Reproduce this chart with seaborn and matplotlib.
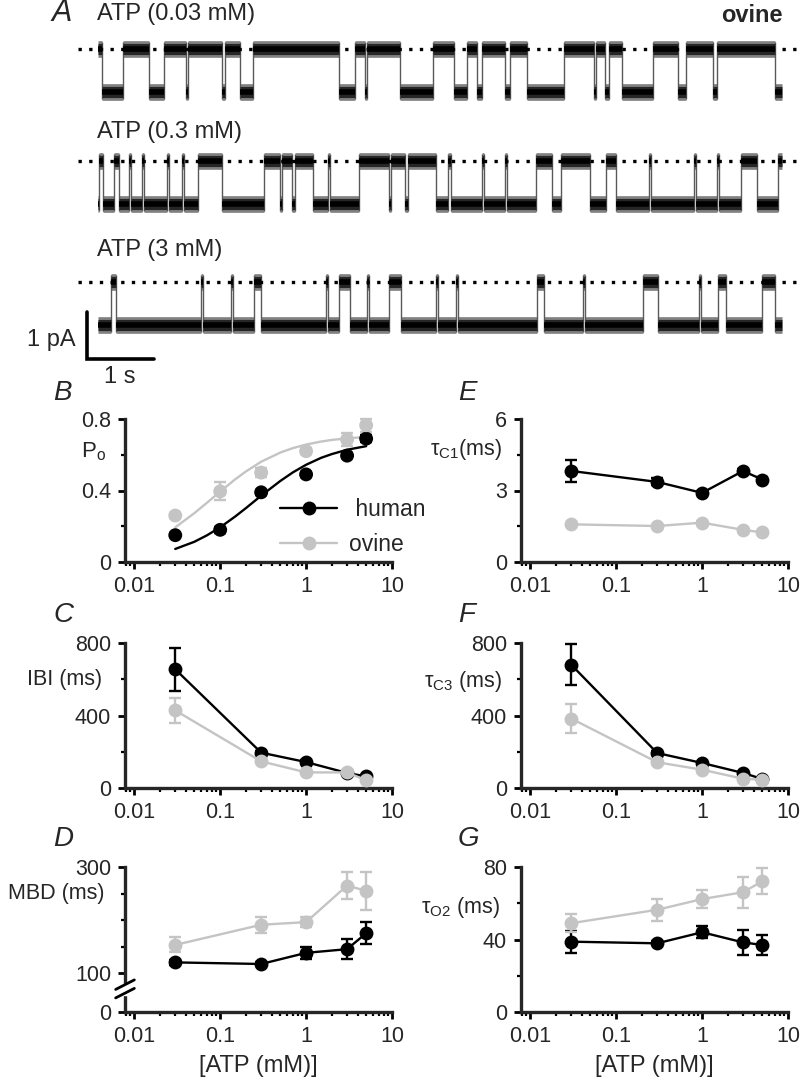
import numpy as np
import pandas as pd
import matplotlib.pyplot as plt
import matplotlib.transforms as mtransforms
from matplotlib.lines import Line2D
from matplotlib.ticker import LogLocator, NullFormatter, FixedLocator
import seaborn as sns

# ---- panel A: single-channel records, dwell intervals (s) ----
trace_end = 10.21
closed_003 = [(0.06, 0.38), (0.76, 0.99), (1.31, 1.35), (1.85, 1.89), (2.12, 2.31),
              (3.59, 3.83), (3.99, 4.02), (4.50, 5.00), (5.31, 5.50), (5.65, 5.73),
              (6.07, 6.15), (6.41, 6.95), (7.40, 7.44), (7.56, 7.63), (7.82, 8.28),
              (8.66, 8.78), (9.18, 9.24), (10.10, 10.21)]
open_03 = [(0.02, 0.08), (0.24, 0.31), (0.46, 0.49), (0.66, 0.69), (1.03, 1.06),
           (1.26, 1.29), (1.49, 1.85), (2.48, 2.71), (2.75, 2.90), (2.94, 3.21),
           (3.44, 3.47), (3.89, 4.34), (4.38, 4.58), (4.62, 5.04), (5.23, 5.27),
           (5.73, 5.76), (6.07, 6.11), (6.53, 6.78), (6.91, 7.34), (7.58, 7.73),
           (8.23, 8.26), (8.89, 8.93), (9.24, 9.27), (9.60, 9.83), (10.15, 10.21)]
open_3 = [(0.19, 0.27), (1.53, 1.56), (1.98, 2.02), (2.33, 2.44), (3.40, 3.44),
          (3.59, 3.76), (4.01, 4.05), (4.35, 4.52), (5.04, 5.07), (5.34, 5.37),
          (6.55, 6.66), (7.24, 7.27), (8.13, 8.36), (8.97, 9.00), (9.26, 9.37),
          (9.91, 10.11)]
trace_labels = ['ATP (0.03 mM)', 'ATP (0.3 mM)', 'ATP (3 mM)']
amp = 0.92  # pA

# ---- panels B-G ----
conc_po = [0.03, 0.1, 0.3, 1, 3, 5]
conc = [0.03, 0.3, 1, 3, 5]

po_human = [0.15, 0.18, 0.39, 0.49, 0.595, 0.69]
po_human_err = [0.01, 0.015, 0.015, 0.015, 0.015, 0.02]
po_ovine = [0.26, 0.395, 0.50, 0.62, 0.685, 0.765]
po_ovine_err = [0.015, 0.05, 0.025, 0.015, 0.035, 0.035]

fit_conc = [0.03, 0.05, 0.07, 0.1, 0.15, 0.2, 0.3, 0.5, 0.7, 1, 1.5, 2, 3, 5]
fit_human = [0.073, 0.113, 0.149, 0.194, 0.255, 0.302, 0.371, 0.453, 0.501,
             0.544, 0.583, 0.604, 0.628, 0.648]
fit_ovine = [0.194, 0.273, 0.331, 0.394, 0.463, 0.507, 0.561, 0.612, 0.637,
             0.657, 0.674, 0.683, 0.692, 0.699]

ibi_human = [655, 195, 143, 83, 64]
ibi_human_err = [118, 10, 10, 8, 6]
ibi_ovine = [428, 147, 86, 86, 42]
ibi_ovine_err = [69, 10, 8, 8, 6]

mbd_human = [120, 117, 138, 145, 175]
mbd_human_err = [5, 4, 12, 19, 21]
mbd_ovine = [153, 191, 196, 265, 255]
mbd_ovine_err = [14, 15, 10, 26, 36]

tc1_human = [3.82, 3.36, 2.90, 3.82, 3.46]
tc1_human_err = [0.45, 0.15, 0.1, 0.1, 0.1]
tc1_ovine = [1.58, 1.51, 1.65, 1.35, 1.24]
tc1_ovine_err = [0.05, 0.05, 0.08, 0.05, 0.05]

tc3_human = [680, 193, 138, 83, 50]
tc3_human_err = [113, 10, 8, 6, 5]
tc3_ovine = [383, 142, 101, 51, 46]
tc3_ovine_err = [78, 8, 6, 5, 4]

to2_human = [38.8, 37.9, 44.0, 38.4, 37.0]
to2_human_err = [6, 1, 3.2, 7, 5.7]
to2_ovine = [49.0, 56.4, 62.3, 66.1, 72.1]
to2_ovine_err = [4.9, 6, 4.8, 8.5, 7.1]

BLACK = 'black'
GREY = '#c4c4c4'
palette = {'human': BLACK, 'ovine': GREY}

sns.set_theme(style='ticks')
plt.rcParams['font.family'] = ['Liberation Sans', 'DejaVu Sans']
plt.rcParams['mathtext.fontset'] = 'custom'
plt.rcParams['mathtext.rm'] = 'Liberation Sans'
plt.rcParams['mathtext.default'] = 'regular'

W, H = 800, 1086
fig = plt.figure(figsize=(W / 100, H / 100), dpi=100)


def box(l, t, r, b):
    return [l / W, 1 - b / H, (r - l) / W, (b - t) / H]


def ftext(x, y, s, **kw):
    fig.text(x / W, 1 - y / H, s, **kw)


# ---------------- panel A ----------------
axA = fig.add_axes([0, 1 - 385 / H, 1, 385 / H])
axA.axis('off')
axA.set_xlim(-98 / 67, (W - 98) / 67)
axA.set_ylim(0, 385 / 47)


def draw_trace(ax, events, base, events_open):
    # events_open: intervals are openings on a closed background, else closures
    bg = base if events_open else base + amp
    ev = base + amp if events_open else base
    t = 0.0
    segs = []
    for a, b in events:
        if a > t:
            segs.append((t, a, bg))
        segs.append((a, b, ev))
        t = b
    if t < trace_end:
        segs.append((t, trace_end, bg))
    for a, b, lev in segs:
        ax.hlines(lev, a, b, colors='0.5', lw=12, capstyle='butt', zorder=2)
        ax.hlines(lev, a, b, colors='0.15', lw=8, capstyle='butt', zorder=3)
        ax.hlines(lev, a, b, colors='black', lw=4, capstyle='butt', zorder=3)
    for a, b, lev in segs[1:]:
        ax.vlines(a, base - 0.15, base + amp + 0.15, colors='0.35', lw=1.0, zorder=2)
    ax.plot([-0.30, 10.48], [base + amp, base + amp], ls=(0, (1, 2.2)), lw=2.4,
            color='black', zorder=4)


bases = [6.23, 3.85, 1.28]
draw_trace(axA, closed_003, bases[0], False)
draw_trace(axA, open_03, bases[1], True)
draw_trace(axA, open_3, bases[2], True)
for lab, yl in zip(trace_labels, [7.89, 5.38, 2.87]):
    axA.text(-0.015, yl, lab, fontsize=17, ha='left', va='center')
axA.text(10.22, 7.87, 'ovine', fontsize=17, fontweight='bold', ha='right', va='center')
axA.text(-0.69, 7.91, 'A', fontsize=22, style='italic', ha='left', va='center')
# scale bars
axA.plot([-0.164, -0.164, 0.836], [1.553, 0.553, 0.553], color='black', lw=2.6,
         solid_joinstyle='miter')
axA.text(-0.34, 0.96, '1 pA', fontsize=17, ha='right', va='center')
axA.text(0.33, 0.17, '1 s', fontsize=17, ha='center', va='center')


# ---------------- panels B-G ----------------
def style_axis(ax, ylim, major, labels, minor):
    ax.set_xscale('log')
    ax.set_xlim(0.0078, 10)
    ax.set_xticks([0.01, 0.1, 1, 10])
    ax.set_xticklabels(['0.01', '0.1', '1', '10'])
    ax.xaxis.set_minor_locator(LogLocator(base=10, subs=np.arange(2, 10)))
    ax.xaxis.set_minor_formatter(NullFormatter())
    ax.set_ylim(*ylim)
    ax.set_yticks(major)
    ax.set_yticklabels(labels)
    ax.yaxis.set_minor_locator(FixedLocator(minor))
    sns.despine(ax=ax)
    for s in ('left', 'bottom'):
        ax.spines[s].set_linewidth(2.4)
    ax.tick_params(which='major', length=5, width=2, labelsize=15.5, pad=5, color='black')
    ax.tick_params(which='minor', length=3, width=1.6, color='black')
    ax.set_xlabel('')
    ax.set_ylabel('')


def plot_pair(ax, x, h, he, o, oe, connect=True):
    for vals, errs, col in ((h, he, BLACK), (o, oe, GREY)):
        ax.errorbar(x, vals, yerr=errs, fmt='none', ecolor=col, elinewidth=1.7,
                    capsize=4, capthick=1.7, zorder=2, clip_on=False)
    df = pd.DataFrame({'conc': list(x) * 2, 'value': list(h) + list(o),
                       'species': ['human'] * len(x) + ['ovine'] * len(x)})
    if connect:
        sns.lineplot(data=df, x='conc', y='value', hue='species',
                     hue_order=['human', 'ovine'], palette=palette, marker='o',
                     markersize=10, markeredgewidth=0, linewidth=1.7, legend=False,
                     ax=ax, zorder=3, clip_on=False)
    else:
        sns.scatterplot(data=df, x='conc', y='value', hue='species',
                        hue_order=['human', 'ovine'], palette=palette, s=100,
                        linewidth=0, legend=False, ax=ax, zorder=3, clip_on=False)


cols = {'L': (125, 392), 'R': (521, 788)}
rows = [(419, 562), (643, 788), (867, 1012)]

# B
l, r = cols['L']
t, b = rows[0]
axB = fig.add_axes(box(l, t, r, b))
fit_df = pd.DataFrame({'conc': fit_conc * 2, 'value': fit_human + fit_ovine,
                       'species': ['human'] * len(fit_conc) + ['ovine'] * len(fit_conc)})
sns.lineplot(data=fit_df, x='conc', y='value', hue='species', hue_order=['human', 'ovine'],
             palette=palette, linewidth=1.7, legend=False, ax=axB, zorder=1)
plot_pair(axB, conc_po, po_human, po_human_err, po_ovine, po_ovine_err, connect=False)
style_axis(axB, (0, 0.8), [0, 0.4, 0.8], ['0', '0.4', '0.8'], [0.2, 0.6])
handles = [Line2D([], [], color=BLACK, marker='o', markersize=10, markeredgewidth=0, lw=1.7),
           Line2D([], [], color=GREY, marker='o', markersize=10, markeredgewidth=0, lw=1.7)]
axB.legend(handles, [' human', 'ovine'], loc='upper left', bbox_to_anchor=(0.58, 0.45),
           frameon=False, fontsize=16.5, handlelength=2.5, handletextpad=0.5,
           labelspacing=0.55, borderpad=0, borderaxespad=0)

# C
t, b = rows[1]
axC = fig.add_axes(box(l, t, r, b))
plot_pair(axC, conc, ibi_human, ibi_human_err, ibi_ovine, ibi_ovine_err)
style_axis(axC, (0, 800), [0, 400, 800], ['0', '400', '800'], [200, 600])

# D (broken y axis)
t, b = rows[2]
axD = fig.add_axes(box(l, t, r, b))
plot_pair(axD, conc, mbd_human, mbd_human_err, mbd_ovine, mbd_ovine_err)
d0 = 100 - 39 / 0.53
style_axis(axD, (d0, 300), [d0, 100, 300], ['0', '100', '300'], [150, 200, 250])
trD = mtransforms.blended_transform_factory(axD.transAxes, axD.transData)
axD.fill_between([-0.02, 0.02], [58, 58], [80, 80], color='white', transform=trD,
                 clip_on=False, zorder=5)
for yb in (62, 78):
    axD.plot([-0.035, 0.035], [yb - 9, yb + 9], color='black', lw=2, transform=trD,
             clip_on=False, zorder=6)
axD.set_xlabel('[ATP (mM)]', fontsize=17, labelpad=6)

# E
l, r = cols['R']
t, b = rows[0]
axE = fig.add_axes(box(l, t, r, b))
plot_pair(axE, conc, tc1_human, tc1_human_err, tc1_ovine, tc1_ovine_err)
style_axis(axE, (0, 6), [0, 3, 6], ['0', '3', '6'], [1.5, 4.5])

# F
t, b = rows[1]
axF = fig.add_axes(box(l, t, r, b))
plot_pair(axF, conc, tc3_human, tc3_human_err, tc3_ovine, tc3_ovine_err)
style_axis(axF, (0, 800), [0, 400, 800], ['0', '400', '800'], [200, 600])

# G
t, b = rows[2]
axG = fig.add_axes(box(l, t, r, b))
plot_pair(axG, conc, to2_human, to2_human_err, to2_ovine, to2_ovine_err)
style_axis(axG, (0, 80), [0, 40, 80], ['0', '40', '80'], [20, 60])
axG.set_xlabel('[ATP (mM)]', fontsize=17, labelpad=6)

# panel letters and y labels
for letter, x, y in [('B', 53, 393), ('C', 53, 615), ('D', 53, 839),
                     ('E', 458, 393), ('F', 458, 615), ('G', 458, 839)]:
    ftext(x, y, letter, fontsize=20, style='italic', ha='left', va='center')
ftext(106, 452, 'P$_{o}$', fontsize=16, ha='right', va='center')
ftext(102, 679, 'IBI (ms)', fontsize=15.5, ha='right', va='center')
ftext(104, 893, 'MBD (ms)', fontsize=15.5, ha='right', va='center')
ftext(502, 450, 'τ$_{C1}$(ms)', fontsize=15.5, ha='right', va='center')
ftext(502, 682, 'τ$_{C3}$ (ms)', fontsize=15.5, ha='right', va='center')
ftext(500, 907, 'τ$_{O2}$ (ms)', fontsize=15.5, ha='right', va='center')

fig.savefig('out.png', dpi=100)
